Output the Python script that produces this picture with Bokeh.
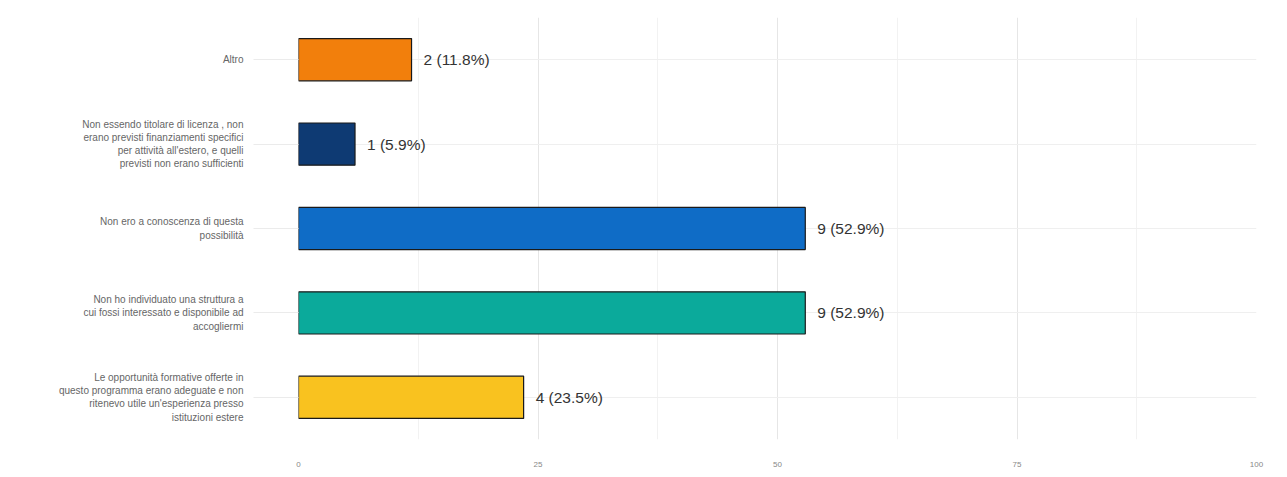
from bokeh.plotting import figure
from bokeh.models import ColumnDataSource, FactorRange, FixedTicker
from bokeh.embed import file_html
from bokeh.resources import INLINE
from bokeh.core.properties import value

categories = [
    "Altro",
    "Non essendo titolare di licenza , non\nerano previsti finanziamenti specifici\nper attività all'estero, e quelli\nprevisti non erano sufficienti",
    "Non ero a conoscenza di questa\npossibilità",
    "Non ho individuato una struttura a\ncui fossi interessato e disponibile ad\naccogliermi",
    "Le opportunità formative offerte in\nquesto programma erano adeguate e non\nritenevo utile un'esperienza presso\nistituzioni estere",
]
counts = [2, 1, 9, 9, 4]
percents = [11.8, 5.9, 52.9, 52.9, 23.5]
colors = ["#F27F0C", "#0E3A73", "#0F6CC6", "#0BAA9B", "#F9C21F"]
x_ticks = [0, 25, 50, 75, 100]

labels = [f"{c} ({p}%)" for c, p in zip(counts, percents)]
src = ColumnDataSource(dict(cat=categories, pct=percents, color=colors, label=labels))

p = figure(
    width=1271, height=469,
    y_range=FactorRange(*list(reversed(categories)), range_padding=0),
    x_range=(0, 100),
    output_backend="svg", toolbar_location=None,
    min_border_left=298, min_border_right=15, min_border_top=17, min_border_bottom=27,
)
p.outline_line_color = None

p.hbar(y="cat", left=0, right="pct", height=0.5, fill_color="color",
       line_color="#1a1a1a", line_width=1.2, source=src)
p.text(x="pct", y="cat", text="label", source=src, x_offset=12,
       text_align="left", text_baseline="middle", text_font_size="15.5px",
       text_color="#333333", text_font=value("Liberation Sans"))

p.xaxis.ticker = FixedTicker(ticks=x_ticks, minor_ticks=[12.5, 37.5, 62.5, 87.5])
p.xaxis.axis_line_color = None
p.xaxis.major_tick_line_color = None
p.xaxis.minor_tick_line_color = None
p.xaxis.major_label_text_font_size = "8px"
p.xaxis.major_label_text_color = "#888888"
p.xaxis.major_label_text_font = "Liberation Sans"
p.xaxis.major_label_standoff = 16

p.yaxis.axis_line_color = None
p.yaxis.major_tick_line_color = "#EBEBEB"
p.yaxis.major_tick_out = 45
p.yaxis.major_tick_in = 0
p.yaxis.major_label_standoff = 10
p.yaxis.major_label_text_font_size = "10px"
p.yaxis.major_label_text_color = "#666666"
p.yaxis.major_label_text_font = "Liberation Sans"
p.yaxis.major_label_text_align = "right"

p.xgrid.grid_line_color = "#E6E6E6"
p.xgrid.minor_grid_line_color = "#F2F2F2"
p.ygrid.grid_line_color = "#EFEFEF"

open("out.html", "w").write(file_html(p, INLINE))
